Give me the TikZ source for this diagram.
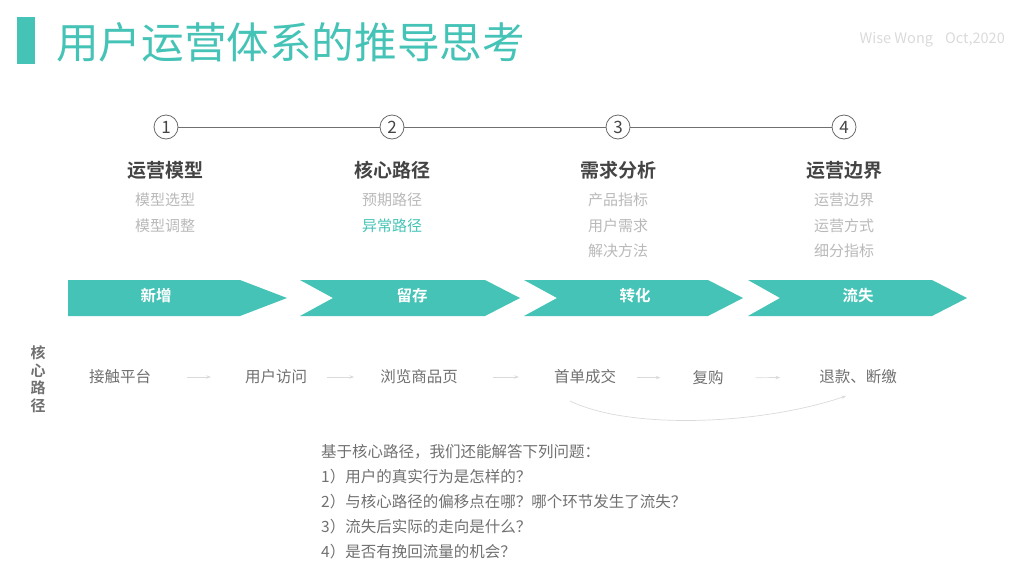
\documentclass[tikz,border=0pt]{standalone}
\usepackage{fontspec}
\setmainfont{Noto Sans CJK SC}[BoldFont={Noto Sans CJK SC Bold}]
\usetikzlibrary{arrows.meta}
\definecolor{mint}{RGB}{69,195,182}
\definecolor{inkdark}{RGB}{68,68,68}
\definecolor{inkmid}{RGB}{112,112,112}
\definecolor{inklight}{RGB}{185,185,185}
\definecolor{inkfaint}{RGB}{218,218,218}
\tikzset{
  fs/.style={font=\fontsize{#1}{#1}\selectfont},
  stepnum/.style={circle,draw=inkdark!80,line width=0.8pt,minimum size=24,inner sep=0,text=inkdark,fs=17},
  stagehead/.style={inner sep=0,text=inkdark,font=\fontsize{19}{19}\selectfont\bfseries},
  stageitem/.style={inner sep=0,text=inklight,fs=15},
  bandlabel/.style={inner sep=0,text=white,font=\fontsize{15.5}{15.5}\selectfont\bfseries},
  pathitem/.style={inner sep=0,text=inkmid,fs=15.5},
  pathlink/.style={draw=inkfaint,line width=0.7pt,-{Stealth[length=4.5,width=3.5]}},
}
\begin{document}
\begin{tikzpicture}[x=1pt,y=-1pt]
\useasboundingbox (0,0) rectangle (1024,576);
% title
\fill[mint] (17,17) rectangle (35,64);
\node[anchor=west,inner sep=0,text=mint,fs=42.6] (title) at (56,42) {用户运营体系的推导思考};
\node[anchor=east,inner sep=0,text=inkfaint,fs=14.5] (sign) at (1005,40) {Wise Wong\hspace{12pt}Oct,2020};
% steps
\node[stepnum] (s1) at (166,127) {1};
\node[stepnum] (s2) at (392,127) {2};
\node[stepnum] (s3) at (618,127) {3};
\node[stepnum] (s4) at (844,127) {4};
\draw[inkmid,line width=0.8pt] (s1) -- (s2);
\draw[inkmid,line width=0.8pt] (s2) -- (s3);
\draw[inkmid,line width=0.8pt] (s3) -- (s4);
\node[stagehead] (h1) at (165,170) {运营模型};
\node[stagehead] (h2) at (392,170) {核心路径};
\node[stagehead] (h3) at (618,170) {需求分析};
\node[stagehead] (h4) at (844,170) {运营边界};
\node[stageitem] (m1) at (165,200) {模型选型};
\node[stageitem] (m2) at (165,226) {模型调整};
\node[stageitem] (k1) at (392,200) {预期路径};
\node[stageitem,text=mint] (k2) at (392,226) {异常路径};
\node[stageitem] (d1) at (618,200) {产品指标};
\node[stageitem] (d2) at (618,226) {用户需求};
\node[stageitem] (d3) at (618,251) {解决方法};
\node[stageitem] (b1) at (844,200) {运营边界};
\node[stageitem] (b2) at (844,226) {运营方式};
\node[stageitem] (b3) at (844,251) {细分指标};
% band
\fill[mint] (68,280) -- (240,280) -- (287,298) -- (240,316) -- (68,316) -- cycle;
\fill[mint] (300,280) -- (485,280) -- (520,298) -- (485,316) -- (300,316) -- (333,298) -- cycle;
\fill[mint] (524,280) -- (708,280) -- (743,298) -- (708,316) -- (524,316) -- (557,298) -- cycle;
\fill[mint] (748,280) -- (932,280) -- (967,298) -- (932,316) -- (748,316) -- (780,298) -- cycle;
\node[bandlabel] (n1) at (156,296) {新增};
\node[bandlabel] (n2) at (412,296) {留存};
\node[bandlabel] (n3) at (635,296) {转化};
\node[bandlabel] (n4) at (858,296) {流失};
% core path
\node[inner sep=0,text=inkmid,align=center,font=\fontsize{15}{17.5}\selectfont\bfseries] (side) at (38,379) {核\\心\\路\\径};
\node[pathitem] (p1) at (120,377) {接触平台};
\node[pathitem] (p2) at (276,377) {用户访问};
\node[pathitem] (p3) at (419,377) {浏览商品页};
\node[pathitem] (p4) at (585,377) {首单成交};
\node[pathitem] (p5) at (708,378) {复购};
\node[pathitem] (p6) at (858,377) {退款、断缴};
\draw[pathlink,shorten <=36,shorten >=34] (p1) -- (p2);
\draw[pathlink,shorten <=20,shorten >=26] (p2) -- (p3);
\draw[pathlink,shorten <=35,shorten >=35] (p3) -- (p4);
\draw[pathlink,shorten <=21,shorten >=32] (p4) -- (p5);
\draw[pathlink,shorten <=32,shorten >=39] (p5) -- (p6);
\coordinate (cs) at (570,401);
\coordinate (ce) at (846,396);
\draw[pathlink] (cs) .. controls (630,430) and (760,425) .. (ce);
% questions
\node[anchor=west,inner sep=0,text=inkmid,align=left,font=\fontsize{15.5}{25}\selectfont] (qs) at (321,501.5)
  {基于核心路径，我们还能解答下列问题：\\
   1）用户的真实行为是怎样的？\\
   2）与核心路径的偏移点在哪？哪个环节发生了流失？\\
   3）流失后实际的走向是什么？\\
   4）是否有挽回流量的机会？};
\end{tikzpicture}
\end{document}
